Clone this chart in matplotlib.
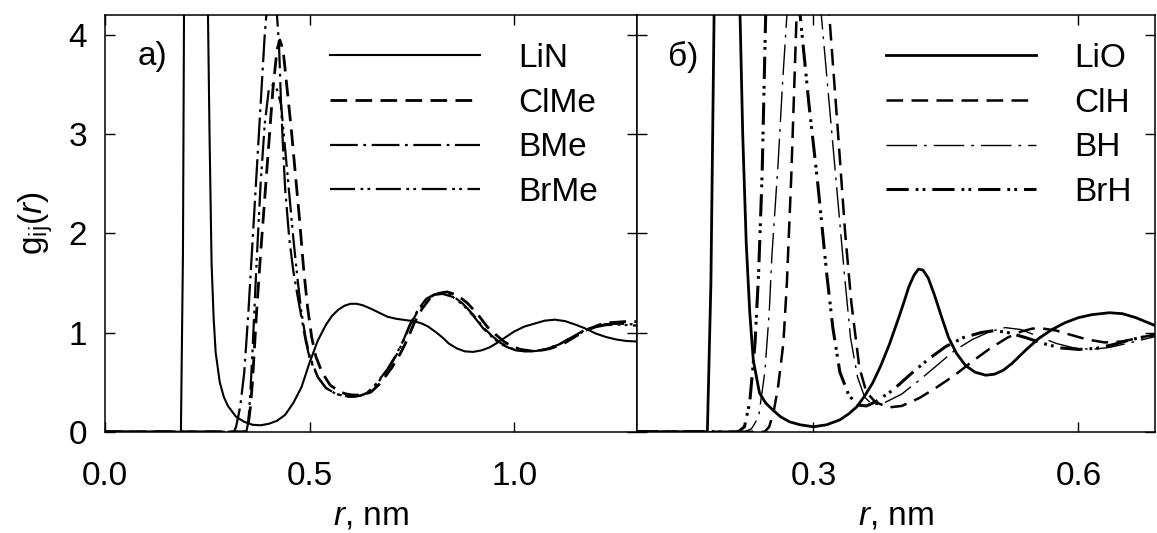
import matplotlib
matplotlib.use("Agg")
import matplotlib.pyplot as plt

plt.rcParams['font.family'] = ['Liberation Sans', 'DejaVu Sans']
plt.rcParams['mathtext.fontset'] = 'custom'
plt.rcParams['mathtext.rm'] = 'Liberation Sans'
plt.rcParams['mathtext.it'] = 'Liberation Sans:italic'
plt.rcParams['lines.scale_dashes'] = False

# --- panel a: Li-N and anion-methyl pairs ---
r_lin = [0.00, 0.185, 0.19, 0.195, 0.22, 0.245, 0.25, 0.255, 0.26, 0.265, 0.27, 0.28, 0.29, 0.30,
         0.32, 0.34, 0.36, 0.38, 0.40, 0.42, 0.44, 0.46, 0.48, 0.50, 0.52, 0.54, 0.555, 0.57, 0.585,
         0.60, 0.615, 0.63, 0.65, 0.67, 0.69, 0.71, 0.735, 0.755, 0.775, 0.79, 0.81, 0.825, 0.84,
         0.86, 0.88, 0.90, 0.92, 0.94, 0.96, 0.98, 1.00, 1.025, 1.05, 1.075, 1.10, 1.125, 1.15,
         1.175, 1.20, 1.225, 1.25, 1.275, 1.30]
g_lin = [0.0, 0.0, 1.8, 6.5, 9.5, 6.5, 4.6, 3.0, 1.7, 1.15, 0.8, 0.5, 0.35, 0.26,
         0.15, 0.10, 0.07, 0.065, 0.08, 0.11, 0.17, 0.29, 0.45, 0.70, 0.92, 1.08, 1.17, 1.23, 1.27,
         1.29, 1.29, 1.275, 1.24, 1.20, 1.16, 1.14, 1.125, 1.115, 1.09, 1.06, 1.00, 0.95, 0.89,
         0.84, 0.81, 0.805, 0.82, 0.85, 0.90, 0.955, 1.01, 1.06, 1.09, 1.12, 1.13, 1.115, 1.08,
         1.04, 0.99, 0.955, 0.93, 0.915, 0.91]

r_clme = [0.00, 0.345, 0.35, 0.355, 0.36, 0.365, 0.37, 0.38, 0.39, 0.40, 0.41, 0.42, 0.427, 0.435,
          0.445, 0.455, 0.465, 0.475, 0.485, 0.495, 0.505, 0.515, 0.53, 0.55, 0.575, 0.59, 0.605,
          0.62, 0.635, 0.65, 0.673, 0.70, 0.722, 0.74, 0.755, 0.775, 0.795, 0.815, 0.836, 0.86,
          0.885, 0.91, 0.934, 0.955, 0.975, 0.995, 1.016, 1.04, 1.065, 1.09, 1.122, 1.15, 1.179,
          1.21, 1.236, 1.27, 1.30]
g_clme = [0.0, 0.0, 0.08, 0.25, 0.5, 0.85, 1.2, 1.8, 2.35, 2.9, 3.45, 3.85, 3.95, 3.85,
          3.45, 3.05, 2.6, 2.15, 1.65, 1.25, 0.95, 0.76, 0.6, 0.47, 0.40, 0.38, 0.37,
          0.37, 0.38, 0.40, 0.49, 0.64, 0.79, 0.94, 1.09, 1.24, 1.35, 1.395, 1.41, 1.38,
          1.30, 1.19, 1.06, 0.98, 0.91, 0.86, 0.83, 0.815, 0.82, 0.84, 0.89, 0.96, 1.03,
          1.08, 1.10, 1.11, 1.11]

r_bme = [0.00, 0.315, 0.32, 0.33, 0.34, 0.35, 0.36, 0.37, 0.38, 0.39, 0.40, 0.41, 0.42, 0.425,
         0.43, 0.435, 0.44, 0.45, 0.46, 0.47, 0.48, 0.49, 0.50, 0.52, 0.54, 0.565, 0.58, 0.595,
         0.61, 0.625, 0.64, 0.662, 0.69, 0.712, 0.73, 0.745, 0.765, 0.785, 0.805, 0.825, 0.85,
         0.875, 0.90, 0.925, 0.945, 0.965, 0.985, 1.005, 1.03, 1.055, 1.08, 1.11, 1.14, 1.17,
         1.20, 1.225, 1.26, 1.30]
g_bme = [0.0, 0.0, 0.05, 0.25, 0.6, 1.2, 1.9, 2.6, 3.3, 4.0, 4.5, 4.55, 4.2, 3.9,
         3.3, 2.85, 2.45, 1.95, 1.62, 1.38, 1.15, 0.92, 0.74, 0.55, 0.44, 0.38, 0.365, 0.355,
         0.355, 0.365, 0.39, 0.48, 0.63, 0.78, 0.93, 1.08, 1.23, 1.34, 1.385, 1.40, 1.37,
         1.29, 1.18, 1.05, 0.97, 0.90, 0.855, 0.825, 0.81, 0.815, 0.835, 0.88, 0.95, 1.02,
         1.065, 1.085, 1.09, 1.08]

r_brme = [0.00, 0.345, 0.35, 0.355, 0.36, 0.365, 0.37, 0.38, 0.39, 0.40, 0.41, 0.42, 0.43, 0.44,
          0.45, 0.46, 0.47, 0.48, 0.49, 0.50, 0.52, 0.54, 0.565, 0.58, 0.595, 0.61, 0.625, 0.64,
          0.662, 0.69, 0.712, 0.73, 0.745, 0.765, 0.785, 0.805, 0.825, 0.85, 0.875, 0.90, 0.925,
          0.945, 0.965, 0.985, 1.005, 1.03, 1.055, 1.08, 1.11, 1.14, 1.17, 1.20, 1.225, 1.26,
          1.30]
g_brme = [0.0, 0.0, 0.1, 0.4, 0.8, 1.25, 1.7, 2.5, 3.1, 3.45, 3.5, 3.45, 3.3, 2.85,
          2.4, 1.95, 1.55, 1.2, 0.95, 0.76, 0.55, 0.44, 0.38, 0.365, 0.355, 0.355, 0.365, 0.39,
          0.47, 0.62, 0.77, 0.92, 1.07, 1.22, 1.33, 1.38, 1.39, 1.36, 1.28, 1.17, 1.04,
          0.96, 0.89, 0.85, 0.82, 0.81, 0.815, 0.835, 0.88, 0.95, 1.01, 1.055, 1.075, 1.08,
          1.07]

# --- panel b: Li-O and anion-hydrogen pairs ---
r_lio = [0.10, 0.18, 0.184, 0.188, 0.20, 0.214, 0.217, 0.22, 0.224, 0.228, 0.232, 0.239, 0.246,
         0.254, 0.263, 0.273, 0.285, 0.30, 0.315, 0.33, 0.34, 0.349, 0.358, 0.367, 0.376, 0.386,
         0.397, 0.403, 0.408, 0.414, 0.419, 0.424, 0.43, 0.437, 0.445, 0.453, 0.462, 0.472, 0.483,
         0.495, 0.505, 0.515, 0.525, 0.54, 0.555, 0.57, 0.585, 0.60, 0.615, 0.635, 0.65, 0.665,
         0.687]
g_lio = [0.0, 0.0, 1.5, 4.5, 9.0, 5.5, 4.2, 3.0, 1.9, 1.2, 0.72, 0.39, 0.29,
         0.22, 0.15, 0.10, 0.07, 0.05, 0.07, 0.12, 0.18, 0.25, 0.36, 0.49, 0.66, 0.88,
         1.16, 1.32, 1.46, 1.58, 1.64, 1.63, 1.55, 1.38, 1.16, 0.95, 0.79, 0.67, 0.6,
         0.57, 0.58, 0.62, 0.69, 0.82, 0.94, 1.03, 1.10, 1.15, 1.18, 1.2, 1.19, 1.15,
         1.07]

r_clh = [0.10, 0.245, 0.25, 0.255, 0.26, 0.266, 0.27, 0.275, 0.281, 0.29, 0.30, 0.31, 0.318, 0.328,
         0.336, 0.343, 0.352, 0.36, 0.37, 0.385, 0.40, 0.42, 0.44, 0.46, 0.48, 0.50, 0.52, 0.535,
         0.548, 0.56, 0.575, 0.59, 0.61, 0.63, 0.65, 0.67, 0.687]
g_clh = [0.0, 0.0, 0.05, 0.2, 0.45, 0.89, 1.5, 2.58, 4.2, 5.3, 5.5, 5.1, 4.2, 3.0,
         2.0, 1.3, 0.65, 0.4, 0.3, 0.245, 0.26, 0.34, 0.45, 0.57, 0.71, 0.84, 0.95, 1.01,
         1.04, 1.04, 1.02, 0.98, 0.93, 0.9, 0.91, 0.95, 0.98]

r_bh = [0.10, 0.222, 0.23, 0.238, 0.245, 0.25, 0.253, 0.26, 0.265, 0.27, 0.28, 0.29, 0.30, 0.309,
        0.318, 0.327, 0.335, 0.342, 0.35, 0.358, 0.367, 0.38, 0.40, 0.42, 0.44, 0.46, 0.48, 0.50,
        0.517, 0.535, 0.555, 0.575, 0.595, 0.615, 0.635, 0.655, 0.687]
g_bh = [0.0, 0.0, 0.03, 0.15, 0.6, 1.2, 1.77, 2.7, 3.5, 4.2, 5.2, 5.5, 5.1, 4.2,
        3.3, 2.4, 1.6, 0.95, 0.55, 0.35, 0.27, 0.29, 0.38, 0.52, 0.67, 0.82, 0.93, 1.01,
        1.05, 1.03, 0.96, 0.89, 0.845, 0.83, 0.85, 0.89, 0.96]

r_brh = [0.10, 0.215, 0.222, 0.228, 0.234, 0.238, 0.242, 0.246, 0.255, 0.265, 0.275, 0.285, 0.295,
         0.305, 0.315, 0.322, 0.33, 0.34, 0.35, 0.36, 0.37, 0.39, 0.41, 0.43, 0.45, 0.47, 0.49,
         0.505, 0.52, 0.54, 0.56, 0.58, 0.60, 0.62, 0.64, 0.66, 0.687]
g_brh = [0.0, 0.0, 0.05, 0.3, 0.9, 1.6, 2.6, 4.2, 5.4, 5.8, 5.3, 4.2, 3.3,
         2.5, 1.6, 1.05, 0.6, 0.37, 0.27, 0.26, 0.3, 0.42, 0.58, 0.73, 0.86, 0.95, 1.0,
         1.02, 1.0, 0.95, 0.89, 0.845, 0.83, 0.84, 0.88, 0.93, 0.98]

labels_a = ['LiN', 'ClMe', 'BMe', 'BrMe']
labels_b = ['LiO', 'ClH', 'BH', 'BrH']

FS = 24

fig = plt.figure(figsize=(11.57, 5.33), dpi=100)
ax1 = fig.add_axes([0.091, 0.190, 0.4593, 0.7815])
ax2 = fig.add_axes([0.5503, 0.190, 0.4482, 0.7815])

# line styles (dash lengths in points)
sty_a = [dict(ls='-', lw=1.5),
         dict(ls=(0, (12, 6)), lw=2.0),
         dict(ls=(0, (20, 4, 2, 4)), lw=1.6),
         dict(ls=(0, (18, 4, 2, 3, 2, 4)), lw=1.6)]
sty_b = [dict(ls='-', lw=2.0),
         dict(ls=(0, (12, 6)), lw=1.8),
         dict(ls=(0, (22, 5, 2, 5)), lw=1.0),
         dict(ls=(0, (16, 5, 2, 3, 2, 5)), lw=2.2)]

data_a = [(r_lin, g_lin), (r_clme, g_clme), (r_bme, g_bme), (r_brme, g_brme)]
data_b = [(r_lio, g_lio), (r_clh, g_clh), (r_bh, g_bh), (r_brh, g_brh)]

for ax, data, styles, labels in [(ax1, data_a, sty_a, labels_a), (ax2, data_b, sty_b, labels_b)]:
    for (r, g), st, lab in zip(data, styles, labels):
        ax.plot(r, g, color='black', label=lab, solid_joinstyle='round', **st)
    ax.set_ylim(0, 4.2)
    ax.tick_params(direction='in', length=7.2, width=1.0, top=True, right=True,
                   labelsize=FS, pad=21)
    ax.tick_params(axis='y', pad=13)
    for sp in ax.spines.values():
        sp.set_linewidth(1.1)
    ax.set_xlabel(r'$\mathit{r}$, nm', fontsize=FS, labelpad=6)

ax1.set_xlim(0, 1.3)
ax1.set_xticks([0.0, 0.5, 1.0])
ax1.set_xticklabels(['0.0', '0.5', '1.0'])
ax1.set_yticks([0, 1, 2, 3, 4])
ax1.set_ylabel(r'g$_\mathregular{ij}$($\mathit{r}$)', fontsize=FS, labelpad=10)

ax2.set_xlim(0.1, 0.687)
ax2.set_xticks([0.3, 0.6])
ax2.set_xticklabels(['0.3', '0.6'])
ax2.set_yticks([0, 1, 2, 3, 4])
ax2.tick_params(labelleft=False)

ax1.text(0.06, 0.90, 'а)', transform=ax1.transAxes, fontsize=FS, va='center', ha='left')
ax2.text(0.06, 0.90, 'б)', transform=ax2.transAxes, fontsize=FS, va='center', ha='left')

leg_kw = dict(frameon=False, fontsize=FS, loc='upper left', borderpad=0, borderaxespad=0,
              handlelength=4.5, handletextpad=1.15, labelspacing=0.41)
ax1.legend(bbox_to_anchor=(0.423, 0.933), **leg_kw)
ax2.legend(bbox_to_anchor=(0.48, 0.933), **leg_kw)

fig.savefig('out.png', dpi=100)
